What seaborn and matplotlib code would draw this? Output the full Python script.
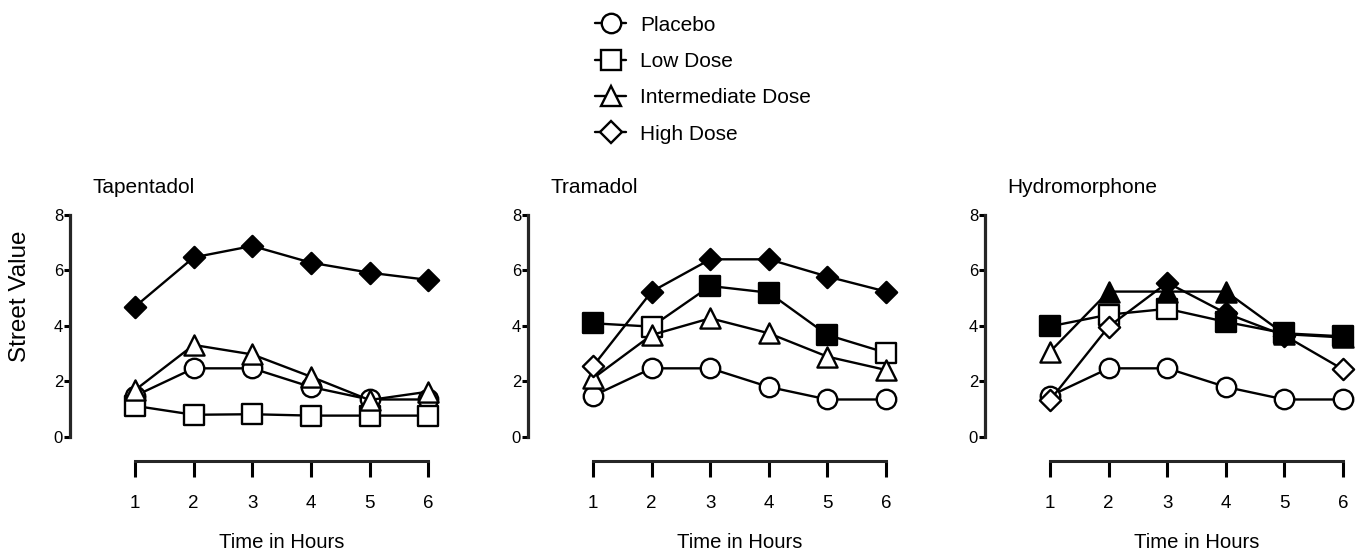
import matplotlib
matplotlib.use("Agg")
import matplotlib.pyplot as plt
import seaborn as sns
import pandas as pd
from matplotlib.lines import Line2D

# dados (valor de rua por hora)
hours = [1, 2, 3, 4, 5, 6]
placebo = [1.48, 2.47, 2.47, 1.80, 1.35, 1.35]

tap_low = [1.12, 0.80, 0.82, 0.77, 0.77, 0.77]
tap_mid = [1.69, 3.31, 2.97, 2.17, 1.33, 1.63]
tap_high = [4.69, 6.46, 6.87, 6.27, 5.91, 5.65]

tra_low = [4.09, 3.97, 5.43, 5.19, 3.67, 3.03]
tra_mid = [2.11, 3.67, 4.27, 3.73, 2.89, 2.41]
tra_high = [2.55, 5.23, 6.39, 6.39, 5.77, 5.23]

hyd_low = [3.98, 4.40, 4.61, 4.14, 3.73, 3.62]
hyd_mid = [3.07, 5.23, 5.23, 5.23, 3.70, 3.58]
hyd_high = [1.33, 3.97, 5.55, 4.45, 3.65, 2.43]

# pontos preenchidos = diferenca significativa vs placebo
tap_sig = {"low": [0] * 6, "mid": [0] * 6, "high": [1] * 6}
tra_sig = {"low": [1, 0, 1, 1, 1, 0], "mid": [0] * 6, "high": [0, 1, 1, 1, 1, 1]}
hyd_sig = {"low": [1, 0, 0, 1, 1, 1], "mid": [0, 1, 1, 1, 1, 1], "high": [0, 0, 1, 1, 1, 0]}

drugs = ["Tapentadol", "Tramadol", "Hydromorphone"]
series = {
    "Tapentadol": (tap_low, tap_mid, tap_high, tap_sig),
    "Tramadol": (tra_low, tra_mid, tra_high, tra_sig),
    "Hydromorphone": (hyd_low, hyd_mid, hyd_high, hyd_sig),
}

doses = ["Placebo", "Low Dose", "Intermediate Dose", "High Dose"]
markers = {"Placebo": "o", "Low Dose": "s", "Intermediate Dose": "^", "High Dose": "D"}
msize = {"Placebo": 14, "Low Dose": 14, "Intermediate Dose": 14.5, "High Dose": 10.8}

sns.set_theme(style="ticks")
plt.rcParams["font.family"] = ["Liberation Sans", "DejaVu Sans"]
plt.rcParams["text.color"] = "black"
plt.rcParams["axes.labelcolor"] = "black"

fig = plt.figure(figsize=(13.63, 5.59), dpi=100)
lefts = [0.0514, 0.3874, 0.7227]

for i, drug in enumerate(drugs):
    ax = fig.add_axes([lefts[i], 0.2182, 0.2713, 0.398])
    low, mid, high, sig = series[drug]
    vals = {"Placebo": placebo, "Low Dose": low, "Intermediate Dose": mid, "High Dose": high}
    flags = {"Placebo": [0] * 6, "Low Dose": sig["low"],
             "Intermediate Dose": sig["mid"], "High Dose": sig["high"]}

    for k, dose in enumerate(doses):
        df = pd.DataFrame({"hour": hours, "value": vals[dose], "sig": flags[dose]})
        sns.lineplot(data=df, x="hour", y="value", color="black", linewidth=1.7,
                     ax=ax, zorder=2 + 2 * k, clip_on=False)
        for filled, face in [(0, "white"), (1, "black")]:
            sub = df[df["sig"] == filled]
            if len(sub) == 0:
                continue
            sns.scatterplot(data=sub, x="hour", y="value", marker=markers[dose],
                            s=msize[dose] ** 2, color=face, edgecolor="black",
                            linewidth=1.7, ax=ax, zorder=3 + 2 * k, clip_on=False)

    ax.set_xlim(-0.11, 6.2)
    ax.set_ylim(0, 8)
    ax.set_yticks([0, 2, 4, 6, 8])
    ax.set_xticks(hours)
    sns.despine(ax=ax)
    ax.spines["left"].set_linewidth(2.3)
    ax.spines["bottom"].set_linewidth(2.2)
    ax.spines["bottom"].set_bounds(1, 6)
    ax.spines["bottom"].set_position(("outward", 17.3))
    ax.tick_params(axis="y", length=4, width=2.2, pad=1, labelsize=12, colors="black")
    ax.tick_params(axis="x", length=11.5, width=2.2, pad=13, labelsize=13.5, colors="black")

    ax.set_xlabel("Time in Hours", fontsize=14.6)
    ax.xaxis.set_label_coords((3.5 + 0.11) / 6.31, -0.476)
    ax.xaxis.label.set_va("center")
    if i == 0:
        ax.set_ylabel("Street Value", fontsize=17.5)
        ax.yaxis.set_label_coords(-0.135, 0.634)
        ax.yaxis.label.set_va("center")
    else:
        ax.set_ylabel("")
    ax.text(0.06, 1.12, drug, transform=ax.transAxes, fontsize=15, va="center", ha="left")

handles = [Line2D([], [], color="black", linewidth=1.7, marker=markers[d],
                  markersize=msize[d], markerfacecolor="white",
                  markeredgecolor="black", markeredgewidth=1.7) for d in doses]
fig.legend(handles, doses, loc="upper left", bbox_to_anchor=(595 / 1363, 0.972),
           frameon=False, fontsize=15, handlelength=1.5, handletextpad=0.65,
           labelspacing=0.83, borderpad=0, borderaxespad=0)

fig.savefig("out.png", dpi=100)
